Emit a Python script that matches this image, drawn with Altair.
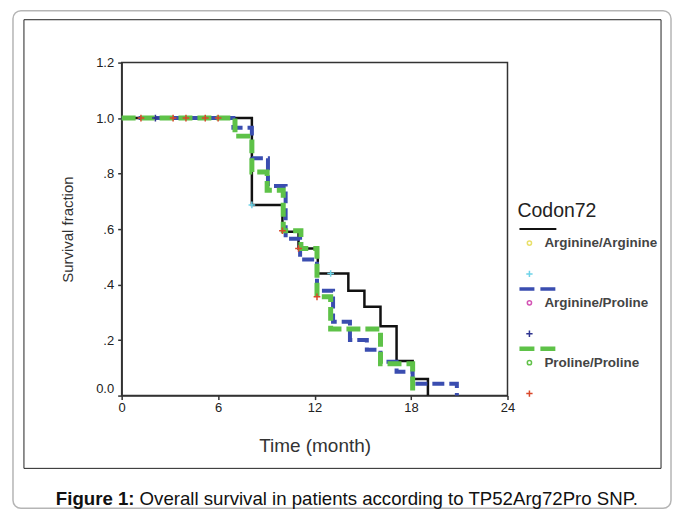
import altair as alt
import pandas as pd

groups = ["Arginine/Arginine", "Arginine/Proline", "Proline/Proline"]

# Kaplan-Meier step curves (time in months, survival fraction)
aa_time = [0, 8.1, 10.0, 11.0, 12.2, 14.1, 15.1, 16.1, 17.1, 18.1, 19.05]
aa_surv = [1.0, 0.687, 0.59, 0.53, 0.44, 0.378, 0.32, 0.25, 0.125, 0.06, 0.0]
ap_time = [0, 6.95, 8.1, 9.1, 10.2, 11.1, 12.15, 13.15, 14.2, 15.25, 16.1, 17.1, 18.1, 20.85]
ap_surv = [1.0, 0.965, 0.855, 0.755, 0.565, 0.49, 0.378, 0.266, 0.2, 0.165, 0.122, 0.086, 0.043, 0.0]
pp_time = [0, 7.05, 8.1, 9.05, 10.05, 11.15, 12.15, 13.0, 16.1, 18.1]
pp_surv = [1.0, 0.935, 0.806, 0.74, 0.594, 0.53, 0.356, 0.24, 0.115, 0.0]

# censored observations
aa_cens_time = [8.1, 13.0]
aa_cens_surv = [0.687, 0.44]
ap_cens_time = [2.1]
ap_cens_surv = [1.0]
pp_cens_time = [1.2, 3.2, 4.0, 5.2, 6.0, 10.0, 11.0, 12.15]
pp_cens_surv = [1.0, 1.0, 1.0, 1.0, 1.0, 0.594, 0.53, 0.356]

x_ticks = [0, 6, 12, 18, 24]
y_ticks = [0, 0.2, 0.4, 0.6, 0.8, 1.0, 1.2]

legend_title = "Codon72"
caption_bold = "Figure 1:"
caption_rest = "Overall survival in patients according to TP52Arg72Pro SNP."

curves = [(aa_time, aa_surv), (ap_time, ap_surv), (pp_time, pp_surv)]
censors = [(aa_cens_time, aa_cens_surv), (ap_cens_time, ap_cens_surv), (pp_cens_time, pp_cens_surv)]

line_style = [
    dict(color="#111111", strokeWidth=2.5),
    dict(color="#3a4db0", strokeWidth=4, strokeDash=[12, 5]),
    dict(color="#5ec248", strokeWidth=5, strokeDash=[14, 5]),
]
legend_dash = [None, [15, 6], [15, 6]]
circle_color = ["#e9e06a", "#d455b5", "#62c24a"]
cens_color = ["#6fd3e8", "#2f3590", "#d9482b"]

FONT = "Liberation Sans"
W, H = 387, 334
PLUS = "M-1,0L1,0M0,-1L0,1"

xenc = alt.X("t:Q", scale=alt.Scale(domain=[0, 24], nice=False),
             axis=alt.Axis(values=x_ticks, title="Time (month)", titlePadding=22,
                           labelPadding=2, titleFontSize=19, labelFlush=False))
yenc = alt.Y("s:Q", scale=alt.Scale(domain=[0, 1.2], nice=False),
             axis=alt.Axis(values=y_ticks, title="Survival fraction", titlePadding=20,
                           labelPadding=4, titleFontSize=15, labelFlush=False,
                           labelBaseline={"condition": {"test": "datum.value == 0", "value": "bottom"},
                                          "value": "middle"},
                           labelExpr="datum.value == 0 || datum.value >= 1 ? format(datum.value, '.1f') : replace(format(datum.value, '.1f'), '0.', '.')"))

one = pd.DataFrame({"k": [0]})

outer = alt.Chart(one).mark_rect(fillOpacity=0, stroke="#b5b5b5", strokeWidth=1.5,
                                 cornerRadius=8).encode(
    x=alt.value(-109), x2=alt.value(551), y=alt.value(-52), y2=alt.value(447))
inner = alt.Chart(one).mark_rect(fillOpacity=0, stroke="#222222", strokeWidth=1).encode(
    x=alt.value(-98), x2=alt.value(541), y=alt.value(-43), y2=alt.value(407))

layers = [outer, inner]
for i, g in enumerate(groups):
    t, s = curves[i]
    df = pd.DataFrame({"t": t, "s": s})
    layers.append(alt.Chart(df).mark_line(interpolate="step-after", **line_style[i]).encode(x=xenc, y=yenc))
for i, g in enumerate(groups):
    t, s = censors[i]
    df = pd.DataFrame({"t": t, "s": s})
    layers.append(alt.Chart(df).mark_point(shape=PLUS, filled=False, size=45, strokeWidth=1.5,
                                           color=cens_color[i], opacity=1).encode(x=xenc, y=yenc))

cap1 = alt.Chart(one).mark_text(text=caption_bold, font=FONT, fontSize=18.7, fontWeight="bold",
                                align="left", baseline="alphabetic", color="#111").encode(
    x=alt.value(-66), y=alt.value(444))
cap2 = alt.Chart(one).mark_text(text=caption_rest, font=FONT, fontSize=18.7,
                                align="left", baseline="alphabetic", color="#111").encode(
    x=alt.value(18), y=alt.value(444))
layers += [cap1, cap2]

main = alt.layer(*layers).properties(width=W, height=H)

# legend panel
leg_df = pd.DataFrame({"group": groups, "idx": [0, 1, 2]})
ly = alt.Y("ly:Q", scale=alt.Scale(domain=[0, H], range=[0, H]), axis=None)
leg_layers = [
    alt.Chart(one).mark_text(text=legend_title, font=FONT, fontSize=19.5, align="left",
                             baseline="middle", color="#222").encode(x=alt.value(3), y=alt.value(149))
]
for i, g in enumerate(groups):
    base = alt.Chart(leg_df).transform_filter(alt.datum.idx == i)
    rule_kw = dict(color=line_style[i]["color"], strokeWidth=line_style[i]["strokeWidth"] - 0.5)
    if legend_dash[i]:
        rule_kw["strokeDash"] = legend_dash[i]
    leg_layers.append(base.transform_calculate(ly="167 + 60 * datum.idx").mark_rule(**rule_kw).encode(
        x=alt.value(5), x2=alt.value(42), y=ly))
    leg_layers.append(base.transform_calculate(ly="181 + 60 * datum.idx").mark_point(
        shape="circle", filled=False, size=18, strokeWidth=1.5, color=circle_color[i], opacity=1).encode(
        x=alt.value(15), y=ly))
    leg_layers.append(base.transform_calculate(ly="181 + 60 * datum.idx").mark_text(
        font=FONT, fontSize=13.5, fontWeight="bold", align="left", baseline="middle", color="#444").encode(
        x=alt.value(30), y=ly, text="group:N"))
    leg_layers.append(base.transform_calculate(ly="212 + 60 * datum.idx").mark_point(
        shape=PLUS, filled=False, size=40, strokeWidth=1.5, color=cens_color[i], opacity=1).encode(
        x=alt.value(15), y=ly))

legend = alt.layer(*leg_layers).properties(width=140, height=H,
                                           view=alt.ViewBackground(strokeOpacity=0))

chart = alt.hconcat(main, legend, spacing=7, bounds="flush").properties(
    autosize=alt.AutoSizeParams(type="pad"),
    padding={"left": 3, "top": 0, "right": 0, "bottom": 0},
    background="white",
).configure_view(stroke="#333333", strokeWidth=1.5).configure_axis(
    grid=False, labelFont=FONT, titleFont=FONT, labelFontSize=13, labelColor="#222",
    titleColor="#333", titleFontWeight="normal", domainColor="#333", domainWidth=1.5,
    tickColor="#333", tickWidth=1.5, tickSize=4)

chart.save("out.html", embed_options={"renderer": "svg", "actions": False})
